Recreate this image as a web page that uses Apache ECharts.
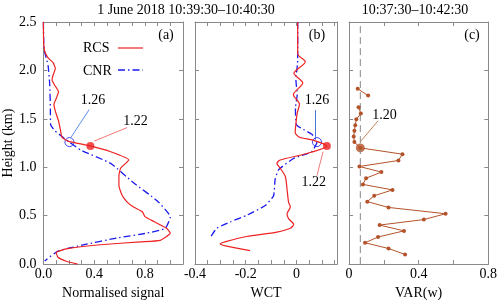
<!DOCTYPE html>
<html><head><meta charset="utf-8">
<script src="https://cdn.jsdelivr.net/npm/echarts@6/dist/echarts.min.js"></script>
<style>html,body{margin:0;padding:0;background:#fff}#c{width:500px;height:305px}</style>
</head><body><div id="c"></div>
<script>
// ---------- DATA ----------
// Panel (a): normalised signal vs height (km)
const rcsNormH = [2.50, 2.29, 2.20, 2.13, 2.08, 2.02, 1.95, 1.90, 1.85, 1.78, 1.71, 1.65, 1.58, 1.48, 1.38, 1.31, 1.27, 1.22, 1.16, 1.075, 0.99, 0.91, 0.81, 0.71, 0.64, 0.59, 0.54, 0.49, 0.44, 0.37, 0.32, 0.245, 0.23, 0.20, 0.16, 0.12, 0.07, 0.03, 0.00];
const rcsNormV = [0.000, 0.002, 0.010, 0.037, 0.076, 0.094, 0.076, 0.068, 0.088, 0.119, 0.101, 0.083, 0.094, 0.119, 0.135, 0.146, 0.193, 0.369, 0.53, 0.673, 0.608, 0.595, 0.595, 0.62, 0.66, 0.71, 0.78, 0.80, 0.87, 0.97, 1.00, 0.92, 0.765, 0.45, 0.19, 0.100, 0.115, 0.18, 0.27];
const cnrNormH = [2.50, 2.22, 2.05, 1.85, 1.60, 1.44, 1.38, 1.31, 1.26, 1.176, 1.04, 0.84, 0.655, 0.487, 0.37, 0.32, 0.27, 0.20, 0.134, 0.033];
const cnrNormV = [0.000, 0.005, 0.037, 0.050, 0.055, 0.057, 0.088, 0.154, 0.205, 0.296, 0.53, 0.71, 0.895, 1.00, 0.96, 0.817, 0.58, 0.32, 0.115, 0.01];
// Panel (b): WCT vs height (km)
const rcsWctH = [2.50, 2.17, 2.09, 1.97, 1.87, 1.75, 1.65, 1.56, 1.45, 1.36, 1.31, 1.28, 1.22, 1.142, 1.075, 1.04, 0.99, 0.907, 0.773, 0.64, 0.59, 0.52, 0.47, 0.41, 0.37, 0.33, 0.285, 0.235, 0.21, 0.185, 0.14];
const rcsWctV = [0.005, 0.005, 0.035, -0.010, 0.025, -0.012, 0.012, 0.003, -0.002, -0.005, 0.012, 0.065, 0.120, 0.041, -0.064, -0.077, -0.064, -0.044, -0.037, -0.031, -0.024, -0.037, -0.031, -0.011, -0.024, -0.077, -0.196, -0.275, -0.301, -0.275, -0.183];
const cnrWctH = [2.50, 2.10, 1.90, 1.75, 1.61, 1.44, 1.39, 1.34, 1.26, 1.16, 1.09, 0.975, 0.874, 0.706, 0.605, 0.504, 0.437, 0.37, 0.275];
const cnrWctV = [0.005, 0.005, -0.002, 0.003, -0.004, 0.000, 0.028, 0.061, 0.081, 0.060, -0.011, -0.070, -0.084, -0.090, -0.123, -0.196, -0.260, -0.314, -0.340];
// Panel (c): VAR(w) vs height (km); null = gap
const varH = [1.81, 1.74, null, 1.62, 1.555, 1.495, 1.435, 1.378, 1.318, 1.26, 1.20, 1.135, 1.07, 1.008, 0.95, 0.887, 0.823, 0.766, 0.706, 0.645, 0.585, 0.52, 0.46, 0.403, 0.343, 0.28, 0.22, 0.161, 0.10];
const varV = [0.050, 0.110, null, 0.055, 0.068, 0.042, 0.036, 0.031, 0.027, 0.031, 0.065, 0.307, 0.284, 0.060, 0.186, 0.098, 0.080, 0.250, 0.145, 0.105, 0.227, 0.555, 0.430, 0.176, 0.316, 0.167, 0.092, 0.227, 0.322];
const varThreshold = 0.065;
// Detected heights (km)
const cnrPeakH = 1.26, rcsPeakH = 1.22, varPeakH = 1.20;
const cnrPeakNorm = 0.205, rcsPeakNorm = 0.37;
const cnrPeakWct = 0.081, rcsPeakWct = 0.12;
const varPeakV = 0.065;
// Axis ticks
const heightTicks = [0, 0.5, 1.0, 1.5, 2.0, 2.5];
const titleMain = '1 June 2018 10:39:30\u201310:40:30';
const titleC = '10:37:30\u201310:42:30';

// ---------- CHART ----------
const FONT = 'Liberation Serif';
const AX = '#8a8a8a';
const RED = '#ee2222', BLUE = '#1a1aee', BROWN = '#b4532a';
const chart = echarts.init(document.getElementById('c'));
const grids = [
  {left: 42, top: 22, width: 141, height: 248},
  {left: 195, top: 22, width: 142, height: 248},
  {left: 349, top: 22, width: 142, height: 248}
];
const near = (v, s) => Math.abs(v / s - Math.round(v / s)) < 1e-6;
const fmts = [
  v => near(v, 0.4) ? v.toFixed(1) : '',
  v => near(v, 0.2) ? (Math.abs(v) < 1e-9 ? '0' : v.toFixed(1)) : '',
  v => near(v, 0.4) ? (Math.abs(v) < 1e-9 ? '0' : v.toFixed(1)) : ''
];
const xr = [[0, 1.1, 0.1], [-0.4, 0.16, 0.05], [0, 0.8, 0.2]];
const names = ['Normalised signal', 'WCT', 'VAR(w)'];
const xAxis = [], yAxis = [];
for (let g = 0; g < 3; g++) {
  for (const top of [false, true]) {
    xAxis.push({
      type: 'value', gridIndex: g, position: top ? 'top' : 'bottom',
      min: xr[g][0], max: xr[g][1], interval: xr[g][2],
      axisLine: {show: true, onZero: false, lineStyle: {color: AX}},
      axisTick: {show: true, inside: true, length: 4, lineStyle: {color: AX}},
      axisLabel: {show: !top, formatter: fmts[g], color: '#000', fontFamily: FONT, fontSize: 14, margin: 3},
      splitLine: {show: false},
      name: top ? '' : names[g], nameLocation: 'middle', nameGap: 16,
      nameTextStyle: {color: '#000', fontFamily: FONT, fontSize: 14}
    });
    yAxis.push({
      type: 'value', gridIndex: g, position: top ? 'right' : 'left',
      min: heightTicks[0], max: heightTicks[heightTicks.length - 1], interval: heightTicks[1] - heightTicks[0],
      axisLine: {show: true, onZero: false, lineStyle: {color: AX}},
      axisTick: {show: true, inside: true, length: 4, lineStyle: {color: AX}},
      axisLabel: {show: (g === 0 && !top), formatter: v => v.toFixed(1), color: '#000', fontFamily: FONT, fontSize: 14, margin: 7},
      splitLine: {show: false},
      name: (g === 0 && !top) ? 'Height (km)' : '', nameLocation: 'middle', nameGap: 26,
      nameTextStyle: {color: '#000', fontFamily: FONT, fontSize: 14}
    });
  }
}
const zip = (xs, ys) => xs.map((x, i) => (x === null || ys[i] === null) ? ['-', '-'] : [x, ys[i]]);
function annot(text, textAt, from, to, color) {
  return {
    markLine: {silent: true, symbol: ['none', 'arrow'], symbolSize: [0, 7], label: {show: false}, animation: false,
      lineStyle: {type: 'solid', width: 1, color: color}, emphasis: {disabled: true},
      data: [[{coord: from}, {coord: to}]]},
    markPoint: {silent: true, symbol: 'circle', symbolSize: 1, itemStyle: {color: 'rgba(0,0,0,0)'}, animation: false,
      label: {show: true, position: 'inside', formatter: text, color: '#000', fontFamily: FONT, fontSize: 14},
      data: [{name: text, coord: textAt}]}
  };
}
const dashDot = [7, 3, 1.5, 3];
const series = [
  // Panel a
  Object.assign({type: 'line', xAxisIndex: 0, yAxisIndex: 0, data: zip(cnrNormV, cnrNormH), showSymbol: false, smooth: 0.15,
    lineStyle: {color: BLUE, width: 1.3, type: dashDot}},
    annot('1.26', [0.39, 1.69], [0.361, 1.596], [0.218, 1.31], '#5b8def')),
  Object.assign({type: 'line', xAxisIndex: 0, yAxisIndex: 0, data: zip(rcsNormV, rcsNormH), showSymbol: false, smooth: 0.15,
    lineStyle: {color: RED, width: 1.2}},
    annot('1.22', [0.725, 1.47], [0.66, 1.41], [0.40, 1.27], '#f07878')),
  {type: 'scatter', xAxisIndex: 0, yAxisIndex: 0, data: [[cnrPeakNorm, cnrPeakH]], symbol: 'circle', symbolSize: 9,
    itemStyle: {color: 'rgba(0,0,0,0)', borderColor: BLUE, borderWidth: 1}},
  {type: 'scatter', xAxisIndex: 0, yAxisIndex: 0, data: [[rcsPeakNorm, rcsPeakH]], symbol: 'circle', symbolSize: 8,
    itemStyle: {color: RED}},
  // Panel b
  Object.assign({type: 'line', xAxisIndex: 2, yAxisIndex: 2, data: zip(cnrWctV, cnrWctH), showSymbol: false, smooth: 0.15,
    lineStyle: {color: BLUE, width: 1.3, type: dashDot}},
    annot('1.26', [0.081, 1.69], [0.074, 1.59], [0.074, 1.30], '#4a78d8')),
  Object.assign({type: 'line', xAxisIndex: 2, yAxisIndex: 2, data: zip(rcsWctV, rcsWctH), showSymbol: false, smooth: 0.25,
    lineStyle: {color: RED, width: 1.2}},
    annot('1.22', [0.068, 0.84], [0.081, 0.914], [0.105, 1.16], '#f07878')),
  {type: 'scatter', xAxisIndex: 2, yAxisIndex: 2, data: [[cnrPeakWct, cnrPeakH]], symbol: 'circle', symbolSize: 9,
    itemStyle: {color: 'rgba(0,0,0,0)', borderColor: BLUE, borderWidth: 1}},
  {type: 'scatter', xAxisIndex: 2, yAxisIndex: 2, data: [[rcsPeakWct, rcsPeakH]], symbol: 'circle', symbolSize: 8,
    itemStyle: {color: RED}},
  // Panel c
  {type: 'line', xAxisIndex: 4, yAxisIndex: 4, data: [[varThreshold, heightTicks[0]], [varThreshold, heightTicks[heightTicks.length - 1]]],
    showSymbol: false, lineStyle: {color: '#888', width: 1, type: [7, 4]}},
  Object.assign({type: 'line', xAxisIndex: 4, yAxisIndex: 4, data: zip(varV, varH), showSymbol: true, symbol: 'circle', symbolSize: 4,
    connectNulls: false, itemStyle: {color: BROWN}, lineStyle: {color: BROWN, width: 1}},
    annot('1.20', [0.204, 1.54], [0.167, 1.48], [0.068, 1.27], '#c8825f')),
  {type: 'scatter', xAxisIndex: 4, yAxisIndex: 4, data: [[varPeakV, varPeakH]], symbol: 'circle', symbolSize: 9,
    itemStyle: {color: BROWN}}
];
const txt = (x, y, t, align) => ({type: 'text', x: x, y: y, style: {text: t, fill: '#000', font: '14px "Liberation Serif"', textAlign: align || 'center', textVerticalAlign: 'middle'}});
const graphic = [
  txt(186, 10, titleMain), txt(415, 10, titleC),
  txt(166, 35, '(a)'), txt(317, 35, '(b)'), txt(472, 35, '(c)'),
  txt(83, 48, 'RCS', 'left'), txt(83, 71, 'CNR', 'left'),
  {type: 'line', shape: {x1: 118, y1: 48, x2: 143, y2: 48}, style: {stroke: RED, lineWidth: 1.2}},
  {type: 'line', shape: {x1: 118, y1: 70, x2: 143, y2: 70}, style: {stroke: BLUE, lineWidth: 1.3, lineDash: dashDot}}
];
chart.setOption({animation: false, grid: grids, xAxis: xAxis, yAxis: yAxis, series: series, graphic: graphic});
</script></body></html>
